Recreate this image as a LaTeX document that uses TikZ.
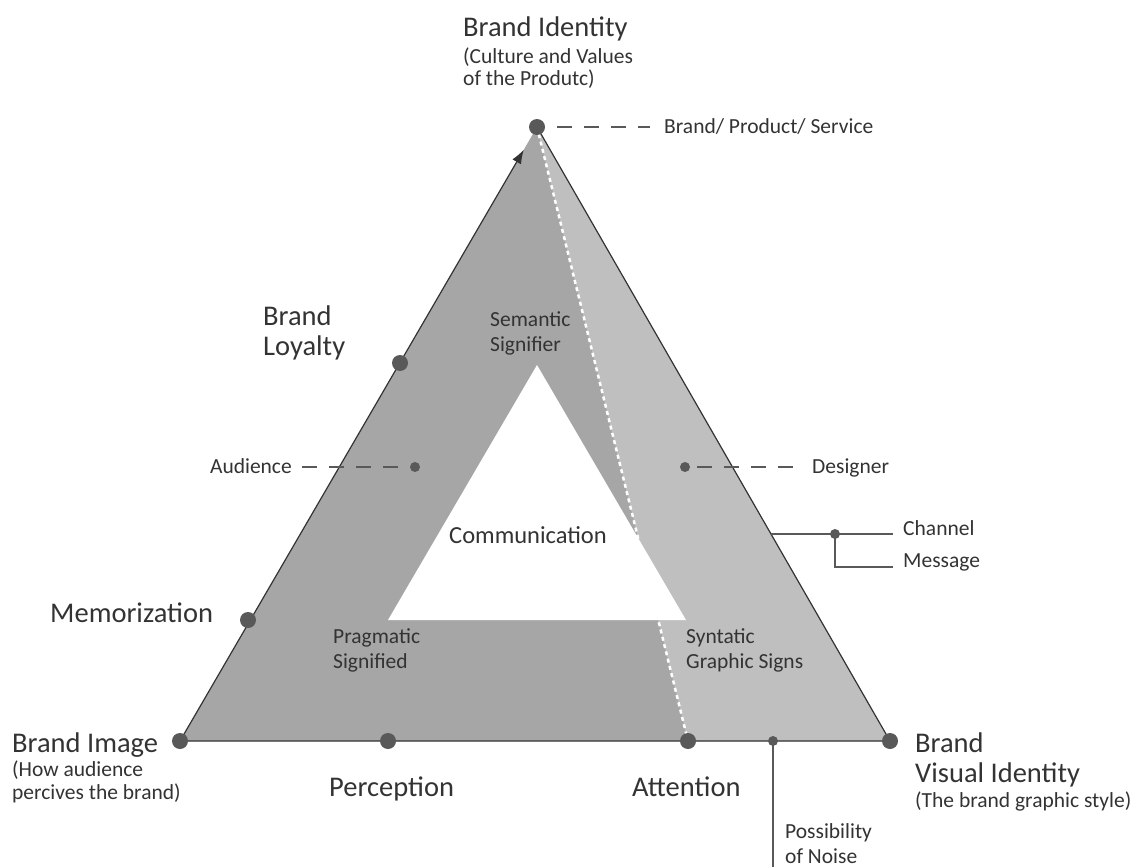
\documentclass[tikz,border=0pt]{standalone}
\usepackage{fontspec}
\setmainfont{Carlito}
\usetikzlibrary{arrows.meta,calc,positioning}

\definecolor{darkfill}{HTML}{A6A6A6}
\definecolor{lightfill}{HTML}{BFBFBF}
\definecolor{dotgray}{HTML}{595959}
\definecolor{textgray}{HTML}{333333}

\begin{document}
\begin{tikzpicture}[x=1pt,y=-1pt,
	bigdot/.style={circle,fill=dotgray,minimum size=16pt,inner sep=0pt},
	smalldot/.style={circle,fill=dotgray,minimum size=10pt,inner sep=0pt},
	edge/.style={draw=textgray,line width=1.2pt},
	dashline/.style={draw=dotgray,line width=1.5pt,dash pattern=on 15pt off 12pt},
	thinline/.style={draw=dotgray,line width=1.3pt},
	biglabel/.style={font=\fontsize{28.5}{30}\selectfont,text=textgray,align=left,inner sep=0pt,anchor=base west},
	midlabel/.style={font=\fontsize{21.5}{25}\selectfont,text=textgray,align=left,inner sep=0pt,anchor=base west},
	sublabel/.style={font=\fontsize{21.5}{22.5}\selectfont,text=textgray,align=left,inner sep=0pt,anchor=base west}]

	\useasboundingbox (0,0) rectangle (1136,867);

	% vertices and points on the sides
	\coordinate (idn) at (537,127);
	\coordinate (img) at (180,741);
	\coordinate (vis) at (890,741);
	\coordinate (att) at (688,741);

	% the two grey halves
	\fill[darkfill] (idn) -- (img) -- (vis) -- cycle;
	\fill[lightfill] (idn) -- (att) -- (vis) -- cycle;
	\draw[white,line width=2.5pt,dash pattern=on 4pt off 3.5pt] (idn) -- (att);

	% inner triangle
	\fill[white] (537,365) -- (388,620) -- (686,620) -- cycle;

	% outline
	\draw[edge] (idn) -- (vis) -- (img);
	\draw[edge,-{Latex[length=14pt,width=10pt]}] (img) -- ($(img)!0.963!(idn)$);

	% dots
	\node[bigdot] (top) at (idn) {};
	\node[bigdot] (loy) at (400,363) {};
	\node[bigdot] (mem) at (248,620) {};
	\node[bigdot] (bim) at (img) {};
	\node[bigdot] (per) at (388,741) {};
	\node[bigdot] (atn) at (att) {};
	\node[bigdot] (bvi) at (vis) {};
	\node[smalldot] (aud) at (415,467) {};
	\node[smalldot] (des) at (685,467) {};
	\node[smalldot] (chn) at (835,534) {};
	\node[smalldot] (noi) at (773,741) {};

	% labels
	\node[biglabel] (identity) at (463,37) {Brand Identity};
	\node[sublabel] at (463,86) {(Culture and Values\\of the Produtc)};
	\node[midlabel] (service) at (664,133) {Brand/ Product/ Service};
	\node[biglabel] at (263,355) {Brand\\Loyalty};
	\node[biglabel] at (50,622) {Memorization};
	\node[biglabel] at (12,752) {Brand Image};
	\node[sublabel] at (12,799) {(How audience\\percives the brand)};
	\node[biglabel] at (329,796) {Perception};
	\node[biglabel] at (632,796) {Attention};
	\node[biglabel] at (915,782) {Brand\\Visual Identity};
	\node[sublabel] at (915,807) {(The brand graphic style)};
	\node[midlabel, anchor=base east] (audience) at (292,473) {Audience};
	\node[midlabel] (designer) at (812,473) {Designer};
	\node[midlabel] (channel) at (903,535) {Channel};
	\node[midlabel] (message) at (903,567) {Message};
	\node[midlabel] at (785,863) {Possibility\\of Noise};
	\node[midlabel] at (490,351) {Semantic\\Signifier};
	\node[font=\fontsize{24.5}{28}\selectfont,text=textgray,inner sep=0pt,anchor=base west] at (449,543) {Communication};
	\node[midlabel] at (333,668) {Pragmatic\\Signified};
	\node[midlabel] at (686,668) {Syntatic\\Graphic Signs};

	% connectors
	\draw[dashline] (top.east) ++(12,0) -- ($(service.west|-top)+(-14,0)$);
	\draw[dashline] ($(audience.east|-aud)+(10,0)$) -- (aud);
	\draw[dashline] (des) ++(12,0) -- ($(designer.west|-des)+(-12,0)$);
	\coordinate (chin) at (771,534);
	\draw[thinline] (chin) -- (893,534);
	\draw[thinline] (chn.center) |- (893,567);
	\coordinate (noiend) at (773,867);
	\draw[thinline] (noi.center) -- (noiend);
\end{tikzpicture}
\end{document}
